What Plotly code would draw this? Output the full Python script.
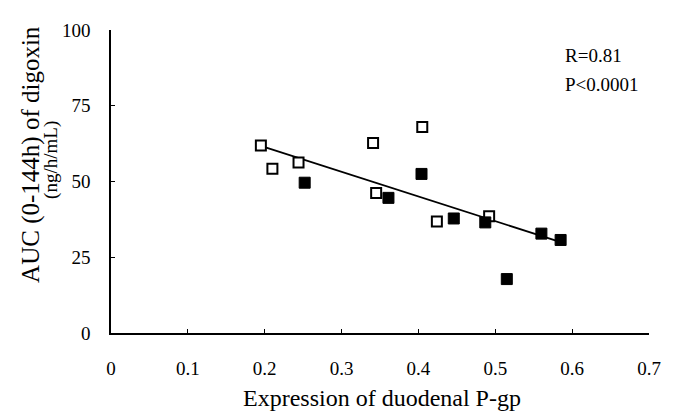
import plotly.graph_objects as go

# Open squares
open_x = [0.195, 0.210, 0.244, 0.341, 0.345, 0.405, 0.424, 0.492]
open_y = [61.9, 54.2, 56.3, 62.7, 46.2, 68.0, 36.8, 38.5]

# Filled squares
fill_x = [0.252, 0.361, 0.404, 0.446, 0.487, 0.515, 0.560, 0.585]
fill_y = [49.6, 44.6, 52.5, 37.8, 36.5, 17.8, 32.8, 30.7]

# Regression line end points
fit_x = [0.197, 0.580]
fit_y = [61.6, 30.4]

x_ticks = [0, 0.1, 0.2, 0.3, 0.4, 0.5, 0.6, 0.7]
x_tick_text = ["0", "0.1", "0.2", "0.3", "0.4", "0.5", "0.6", "0.7"]
y_ticks = [0, 25, 50, 75, 100]
y_tick_text = ["0", "25", "50", "75", "100"]

FONT = "Liberation Serif, Times New Roman, serif"

fig = go.Figure()
fig.add_trace(go.Scatter(x=fit_x, y=fit_y, mode="lines",
                         line=dict(color="black", width=1.8), showlegend=False,
                         hoverinfo="skip"))
fig.add_trace(go.Scatter(x=open_x, y=open_y, mode="markers",
                         marker=dict(symbol="square", size=10, color="white",
                                     line=dict(color="black", width=2)),
                         showlegend=False))
fig.add_trace(go.Scatter(x=fill_x, y=fill_y, mode="markers",
                         marker=dict(symbol="square", size=11, color="black",
                                     line=dict(color="black", width=1)),
                         showlegend=False))

# page body has an 8px margin, so the figure is offset by 8px
fig.update_layout(
    width=665, height=409,
    margin=dict(l=103, r=13, t=13, b=84),
    paper_bgcolor="white", plot_bgcolor="white",
    font=dict(family=FONT, color="black", size=19),
    xaxis=dict(range=[0, 0.7], tickvals=x_ticks, ticktext=x_tick_text,
               showgrid=False, zeroline=False, showline=True,
               linecolor="black", linewidth=1.5, ticks="inside", ticklen=4,
               tickwidth=1.2, tickcolor="black", ticklabelstandoff=17,
               tickfont=dict(family=FONT, size=19, color="black")),
    yaxis=dict(range=[0, 100], tickvals=y_ticks, ticktext=y_tick_text,
               showgrid=False, zeroline=False, showline=True,
               linecolor="black", linewidth=1.5, ticks="inside", ticklen=4,
               tickwidth=1.2, tickcolor="black", ticklabelstandoff=15,
               tickfont=dict(family=FONT, size=19, color="black")),
    annotations=[
        dict(text="AUC (0-144h) of digoxin", xref="paper", yref="paper",
             x=-0.1475, y=0.59, xanchor="center", yanchor="middle",
             textangle=-90, showarrow=False,
             font=dict(family=FONT, size=25, color="black")),
        dict(text="(ng/h/mL)", xref="paper", yref="paper",
             x=-0.112, y=0.5705, xanchor="center", yanchor="middle",
             textangle=-90, showarrow=False,
             font=dict(family=FONT, size=19, color="black")),
        dict(text="Expression of duodenal P-gp", xref="paper", yref="paper",
             x=0.503, y=-0.2147, xanchor="center", yanchor="middle",
             showarrow=False, font=dict(family=FONT, size=24, color="black")),
        dict(text="R=0.81", xref="paper", yref="paper",
             x=0.84, y=0.917, xanchor="left", yanchor="middle",
             showarrow=False, font=dict(family=FONT, size=19, color="black")),
        dict(text="P<0.0001", xref="paper", yref="paper",
             x=0.84, y=0.8205, xanchor="left", yanchor="middle",
             showarrow=False, font=dict(family=FONT, size=19, color="black")),
    ],
)

fig.write_html("out.html")
